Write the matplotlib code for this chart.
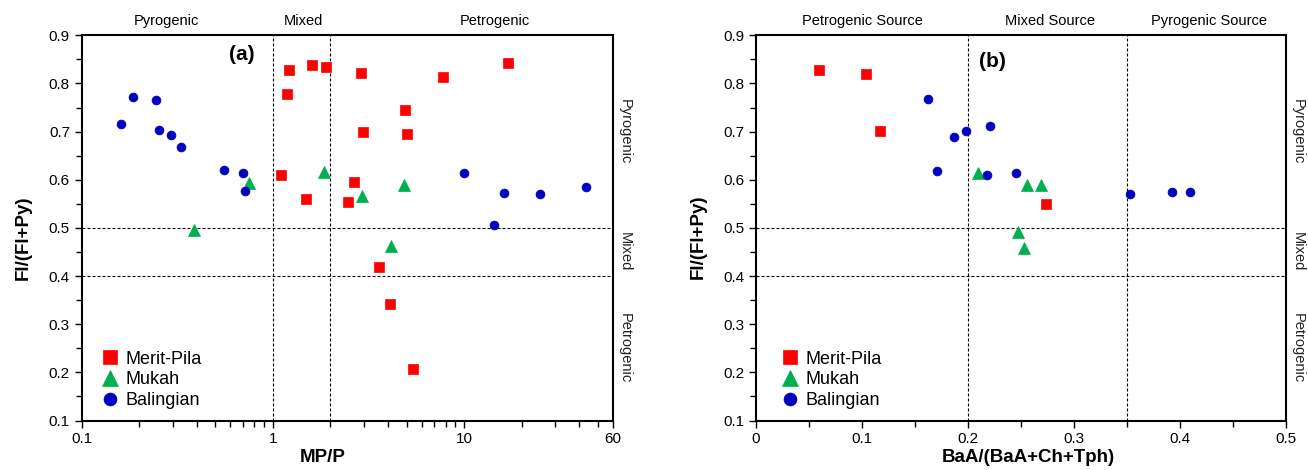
import matplotlib
matplotlib.use("Agg")
import matplotlib.pyplot as plt
import matplotlib.transforms as mtransforms
from matplotlib.ticker import FixedLocator, FixedFormatter, MultipleLocator, NullFormatter

plt.rcParams["font.family"] = ["Liberation Sans", "DejaVu Sans"]

# --- (a) MP/P vs Fl/(Fl+Py) ---
mpp_merit = [1.21, 1.18, 1.60, 1.90, 1.10, 1.49, 2.88, 2.95, 4.89, 5.01,
             7.73, 16.9, 2.65, 2.47, 3.57, 4.08, 5.38]
flpy_merit_a = [0.827, 0.779, 0.839, 0.835, 0.609, 0.560, 0.822, 0.699, 0.744, 0.696,
                0.814, 0.843, 0.596, 0.553, 0.418, 0.343, 0.206]
mpp_mukah = [0.388, 0.753, 1.85, 2.92, 4.85, 4.13]
flpy_mukah_a = [0.495, 0.594, 0.617, 0.567, 0.590, 0.463]
mpp_bal = [0.161, 0.185, 0.244, 0.255, 0.293, 0.330, 0.553, 0.699, 0.718,
           9.96, 14.4, 16.2, 24.9, 43.2]
flpy_bal_a = [0.715, 0.771, 0.766, 0.704, 0.692, 0.668, 0.621, 0.613, 0.576,
              0.613, 0.506, 0.573, 0.570, 0.585]

# --- (b) BaA/(BaA+Ch+Tph) vs Fl/(Fl+Py) ---
baa_merit = [0.059, 0.104, 0.117, 0.274]
flpy_merit_b = [0.828, 0.820, 0.702, 0.550]
baa_mukah = [0.209, 0.256, 0.269, 0.247, 0.253]
flpy_mukah_b = [0.614, 0.590, 0.590, 0.491, 0.458]
baa_bal = [0.162, 0.171, 0.187, 0.198, 0.221, 0.218, 0.245, 0.353, 0.392, 0.409]
flpy_bal_b = [0.768, 0.618, 0.689, 0.701, 0.712, 0.610, 0.614, 0.570, 0.574, 0.574]

site_names = ["Merit-Pila", "Mukah", "Balingian"]
site_colors = ["#FF0000", "#00B050", "#0000BE"]
site_markers = ["s", "^", "o"]
site_ms = [6.8, 8.0, 6.4]

side_labels = ["Pyrogenic", "Mixed", "Petrogenic"]
side_label_y = [0.70, 0.45, 0.25]
top_labels_a = ["Pyrogenic", "Mixed", "Petrogenic"]
top_x_a = [0.279, 1.44, 14.5]
top_labels_b = ["Petrogenic Source", "Mixed Source", "Pyrogenic Source"]
top_x_b = [0.10, 0.277, 0.427]

dash = (0, (2.7, 1.8))


def style_axes(ax):
    for sp in ax.spines.values():
        sp.set_linewidth(1.5)
    ax.tick_params(which="major", direction="out", length=5, width=1.0,
                   labelsize=11, colors="black")
    ax.tick_params(which="minor", direction="out", length=4, width=1.0)
    ax.set_ylim(0.1, 0.9)
    ax.yaxis.set_major_locator(MultipleLocator(0.1))
    ax.yaxis.set_minor_locator(MultipleLocator(0.05))
    ax.yaxis.set_major_formatter(FixedFormatter([]))
    ax.set_yticks([0.1, 0.2, 0.3, 0.4, 0.5, 0.6, 0.7, 0.8, 0.9])
    ax.set_yticklabels(["0.1", "0.2", "0.3", "0.4", "0.5", "0.6", "0.7", "0.8", "0.9"])
    ax.axhline(0.5, color="black", lw=0.8, linestyle=dash, zorder=1)
    ax.axhline(0.4, color="black", lw=0.8, linestyle=dash, zorder=1)
    ax.set_ylabel("Fl/(Fl+Py)", fontsize=13.5, fontweight="bold")
    # source zones written down the right-hand side
    trans = mtransforms.blended_transform_factory(ax.transAxes, ax.transData)
    for lab, yv in zip(side_labels, side_label_y):
        ax.text(1.022, yv, lab, transform=trans, rotation=270, ha="center",
                va="center", fontsize=10.5, color="#222222")


def draw_sites(ax, xs, ys):
    for x, y, name, c, m, ms in zip(xs, ys, site_names, site_colors, site_markers, site_ms):
        ax.plot(x, y, linestyle="none", marker=m, ms=ms, color=c, mec=c,
                mew=0.5, label=name, zorder=3)


fig = plt.figure(figsize=(13.08, 4.70), dpi=100)
ax1 = fig.add_axes([0.0625, 0.1053, 0.406, 0.8196])
ax2 = fig.add_axes([0.578, 0.1053, 0.4052, 0.8196])

# panel (a)
ax1.set_xscale("log")
ax1.set_xlim(0.1, 60)
style_axes(ax1)
ax1.xaxis.set_major_locator(FixedLocator([0.1, 1, 10, 60]))
ax1.xaxis.set_major_formatter(FixedFormatter(["0.1", "1", "10", "60"]))
ax1.xaxis.set_minor_locator(FixedLocator([0.2, 0.3, 0.4, 0.5, 0.6, 0.7, 0.8, 0.9,
                                          2, 3, 4, 5, 6, 7, 8, 9, 20, 30, 40, 50]))
ax1.xaxis.set_minor_formatter(NullFormatter())
ax1.axvline(1, color="black", lw=0.8, linestyle=dash, zorder=1)
ax1.axvline(2, color="black", lw=0.8, linestyle=dash, zorder=1)
draw_sites(ax1, [mpp_merit, mpp_mukah, mpp_bal], [flpy_merit_a, flpy_mukah_a, flpy_bal_a])
ax1.set_xlabel("MP/P", fontsize=13.5, fontweight="bold")
ax1.xaxis.set_label_coords(0.454, -0.074)
ax1.yaxis.set_label_coords(-0.094, 0.474)
ax1.text(0.301, 0.951, "(a)", transform=ax1.transAxes, ha="center", va="center",
         fontsize=15, fontweight="bold")
for lab, xv in zip(top_labels_a, top_x_a):
    ax1.text(xv, 1.037, lab, transform=ax1.get_xaxis_transform(), ha="center",
             va="center", fontsize=10.5)
ax1.legend(loc="lower left", bbox_to_anchor=(0.040, 0.030), frameon=False,
           fontsize=13, markerscale=1.45, handlelength=0.8, handletextpad=0.45,
           labelspacing=0.2, borderpad=0, borderaxespad=0)

# panel (b)
ax2.set_xlim(0, 0.5)
style_axes(ax2)
ax2.xaxis.set_major_locator(MultipleLocator(0.1))
ax2.xaxis.set_minor_locator(MultipleLocator(0.05))
ax2.set_xticks([0, 0.1, 0.2, 0.3, 0.4, 0.5])
ax2.set_xticklabels(["0", "0.1", "0.2", "0.3", "0.4", "0.5"])
ax2.axvline(0.2, color="black", lw=0.8, linestyle=dash, zorder=1)
ax2.axvline(0.35, color="black", lw=0.8, linestyle=dash, zorder=1)
draw_sites(ax2, [baa_merit, baa_mukah, baa_bal], [flpy_merit_b, flpy_mukah_b, flpy_bal_b])
ax2.set_xlabel("BaA/(BaA+Ch+Tph)", fontsize=13.5, fontweight="bold")
ax2.xaxis.set_label_coords(0.513, -0.074)
ax2.yaxis.set_label_coords(-0.0925, 0.477)
ax2.text(0.447, 0.931, "(b)", transform=ax2.transAxes, ha="center", va="center",
         fontsize=15, fontweight="bold")
for lab, xv in zip(top_labels_b, top_x_b):
    ax2.text(xv, 1.037, lab, transform=ax2.get_xaxis_transform(), ha="center",
             va="center", fontsize=10.5)
ax2.legend(loc="lower left", bbox_to_anchor=(0.0506, 0.030), frameon=False,
           fontsize=13, markerscale=1.45, handlelength=0.8, handletextpad=0.45,
           labelspacing=0.2, borderpad=0, borderaxespad=0)

fig.savefig("out.png", dpi=100)
